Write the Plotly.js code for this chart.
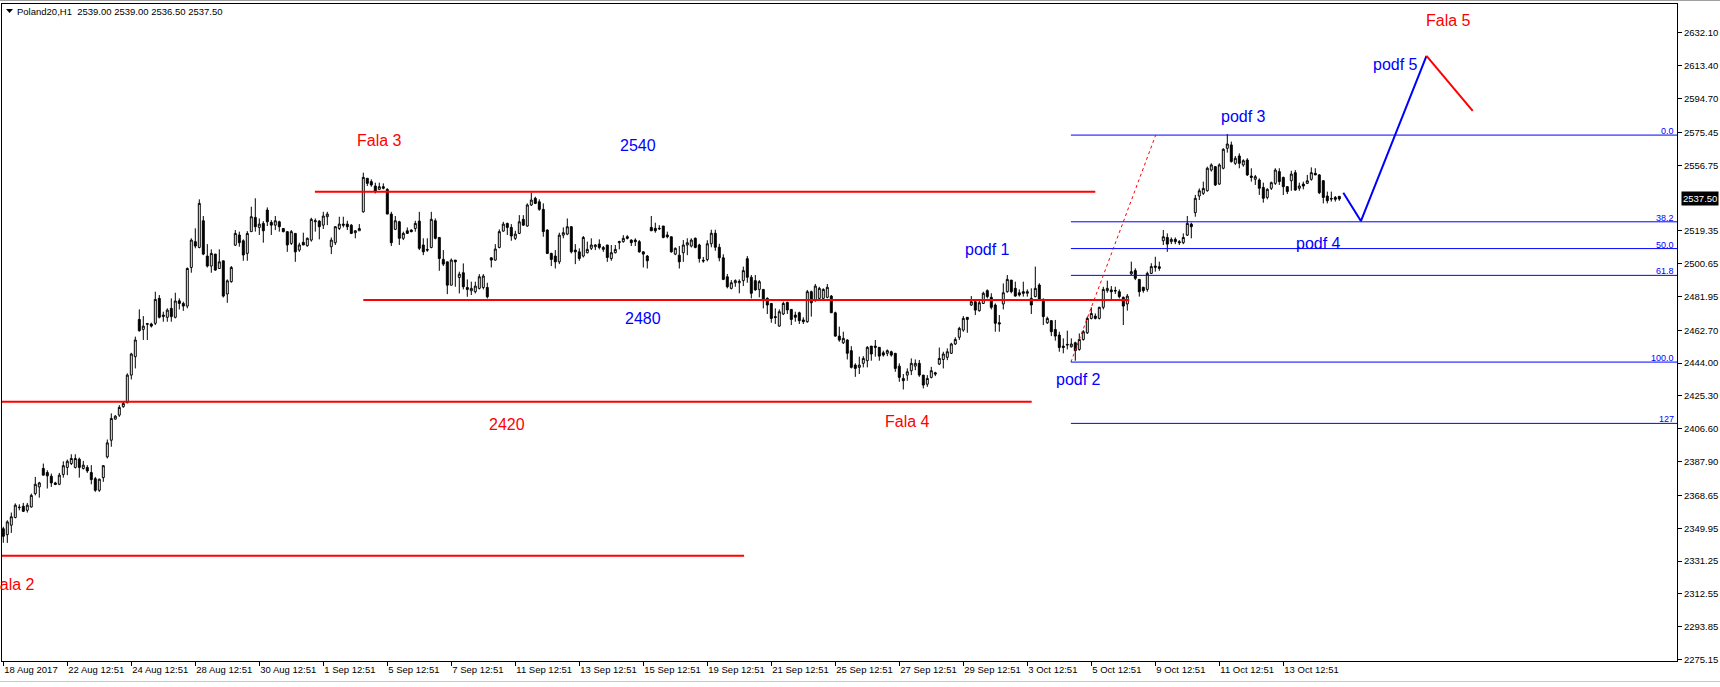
<!DOCTYPE html>
<html><head><meta charset="utf-8">
<script src="https://cdn.plot.ly/plotly-3.0.1.min.js"></script>
<style>html,body{margin:0;padding:0;background:#fff;overflow:hidden}#chart{width:1720px;height:687px;}</style>
</head><body><div id="chart"></div>
<script>
// ---- DATA (H1 candles) ----
const open = [
2349.7,2346.3,2351.7,2356.1,2361.7,2362.5,2360.2,2362.1,2369.7,2373.5,
2384.0,2381.7,2379.6,2375.8,2375.0,2380.6,2384.6,2386.8,2384.6,2389.3,
2384.0,2384.6,2381.7,2378.2,2371.6,2378.8,2390.6,2400.1,2412.1,2414.4,
2419.2,2421.5,2437.2,2447.7,2468.9,2463.2,2466.1,2466.3,2466.7,2480.9,
2470.5,2470.1,2475.2,2470.1,2479.5,2478.0,2476.5,2498.5,2513.2,2509.9,
2525.1,2505.0,2499.3,2506.1,2497.9,2502.3,2483.4,2490.4,2511.2,2517.0,
2513.7,2506.5,2518.9,2527.0,2521.3,2523.6,2531.2,2524.2,2522.6,2524.5,
2520.7,2518.9,2512.2,2517.9,2508.4,2512.8,2510.9,2514.1,2524.5,2524.9,
2522.6,2527.4,2510.3,2512.6,2520.7,2523.2,2523.2,2522.6,2518.3,2519.4,
2530.2,2549.3,2547.4,2544.9,2543.0,2544.5,2543.0,2528.9,2520.2,2524.5,
2515.1,2519.4,2519.8,2520.7,2524.9,2511.3,2508.8,2509.9,2525.1,2515.6,
2503.1,2501.7,2488.4,2502.7,2492.8,2495.5,2487.1,2485.2,2484.7,2486.6,
2487.1,2487.1,2504.0,2502.7,2509.9,2519.2,2523.6,2521.3,2515.1,2517.9,
2525.9,2522.1,2534.1,2537.9,2535.9,2531.6,2519.8,2506.5,2505.0,2501.7,
2516.9,2517.5,2521.7,2508.4,2507.4,2505.0,2506.9,2509.4,2510.3,2511.8,
2508.8,2511.3,2503.6,2506.9,2512.6,2513.2,2516.0,2514.1,2514.1,2513.2,
2507.4,2505.0,2521.3,2520.8,2520.8,2522.1,2517.0,2516.0,2506.1,2505.5,
2506.9,2511.3,2510.7,2515.1,2511.3,2502.6,2503.0,2512.0,2518.0,2510.0,
2504.0,2493.2,2486.6,2489.8,2489.8,2491.0,2503.5,2492.9,2491.0,2486.0,
2486.0,2480.9,2478.0,2470.5,2465.1,2472.0,2478.6,2474.6,2471.4,2472.7,
2468.6,2467.6,2484.7,2479.6,2480.9,2480.9,2481.5,2482.2,2472.7,2459.4,
2455.6,2457.2,2451.1,2442.9,2441.6,2443.9,2445.4,2453.7,2453.7,2453.0,
2449.9,2449.6,2450.5,2449.6,2442.3,2435.3,2437.2,2439.7,2442.3,2443.9,
2437.2,2432.0,2435.9,2438.5,2443.5,2446.1,2447.3,2449.6,2454.9,2458.7,
2462.8,2470.1,2477.1,2479.0,2473.9,2478.0,2485.3,2481.5,2477.1,2467.0,
2477.7,2484.7,2491.3,2486.6,2484.1,2484.7,2483.8,2480.9,2481.9,2488.5,
2480.3,2467.0,2468.2,2463.2,2460.0,2453.7,2454.7,2453.3,2455.6,2451.8,
2457.5,2461.3,2469.5,2470.8,2469.5,2475.8,2485.3,2485.7,2485.4,2484.7,
2481.5,2477.7,2494.8,2496.7,2491.7,2487.2,2486.0,2495.1,2499.3,2498.9,
2513.7,2515.6,2513.2,2514.5,2513.2,2512.6,2516.9,2523.2,2529.7,2539.2,
2540.7,2542.2,2554.0,2555.9,2546.0,2555.0,2566.4,2568.3,2557.8,2562.0,
2556.9,2559.7,2550.6,2548.7,2548.3,2544.1,2538.4,2543.6,2546.4,2553.1,
2549.8,2544.5,2547.9,2552.5,2543.6,2546.0,2546.4,2548.7,2552.1,2551.2,
2547.9,2539.2,2537.8,2538.4,2539.0
];
const high = [
2350.8,2354.5,2358.9,2364.1,2363.6,2364.4,2364.4,2369.7,2379.2,2376.4,
2386.8,2383.0,2381.1,2376.4,2381.5,2388.1,2389.1,2392.1,2392.1,2390.2,
2388.3,2385.9,2385.9,2379.2,2378.2,2385.9,2400.5,2415.4,2414.4,2420.1,
2422.0,2438.2,2449.9,2459.1,2474.6,2470.8,2466.6,2467.0,2484.7,2482.8,
2473.3,2475.2,2480.9,2484.1,2480.9,2479.0,2498.5,2515.1,2520.8,2537.3,
2527.8,2511.8,2508.8,2506.2,2508.8,2502.3,2491.7,2499.3,2519.8,2518.9,
2514.5,2519.2,2533.1,2537.9,2526.4,2524.9,2532.7,2525.5,2527.8,2525.1,
2520.9,2518.9,2519.8,2517.9,2512.6,2518.3,2515.6,2526.8,2526.4,2525.5,
2530.2,2530.2,2515.6,2522.1,2527.4,2527.4,2525.1,2523.2,2519.8,2523.2,
2552.5,2549.3,2548.7,2546.8,2546.8,2546.4,2543.6,2530.2,2527.8,2525.1,
2518.9,2521.3,2520.2,2525.1,2530.2,2515.1,2515.1,2530.2,2526.4,2515.6,
2508.4,2501.7,2503.6,2502.7,2496.1,2500.8,2491.7,2490.4,2490.4,2494.7,
2494.7,2489.8,2504.2,2511.8,2520.2,2524.5,2524.0,2523.2,2519.4,2528.3,
2528.3,2535.0,2541.1,2538.8,2537.3,2535.0,2520.2,2506.9,2508.4,2518.3,
2521.3,2526.4,2522.1,2511.8,2509.4,2516.4,2513.2,2515.1,2511.8,2514.5,
2510.7,2511.3,2511.3,2511.3,2513.7,2516.9,2516.9,2514.5,2515.1,2514.1,
2507.6,2505.6,2527.8,2524.0,2522.6,2522.1,2518.9,2516.0,2509.9,2510.7,
2514.1,2515.1,2515.1,2515.6,2512.0,2504.5,2514.0,2520.0,2520.0,2512.0,
2506.0,2494.8,2491.3,2491.7,2491.7,2499.0,2505.0,2494.2,2494.2,2491.3,
2486.0,2481.5,2478.0,2475.2,2474.6,2479.0,2479.0,2474.6,2473.3,2473.3,
2470.1,2485.7,2485.3,2489.1,2487.5,2486.6,2489.1,2482.8,2473.3,2464.8,
2461.9,2457.6,2453.7,2443.9,2447.7,2448.0,2453.7,2453.7,2457.2,2453.0,
2451.1,2451.8,2451.1,2449.6,2443.9,2437.8,2441.0,2446.7,2446.1,2445.8,
2437.2,2437.2,2441.9,2439.1,2452.9,2450.5,2452.4,2455.6,2458.7,2464.7,
2470.8,2470.1,2482.2,2480.3,2480.3,2484.7,2486.0,2483.8,2478.0,2471.4,
2489.4,2494.2,2491.3,2490.4,2486.0,2490.4,2486.0,2486.6,2499.0,2489.5,
2480.9,2470.5,2468.6,2468.6,2461.9,2458.1,2462.5,2458.1,2456.2,2460.9,
2462.8,2470.5,2475.8,2472.3,2476.1,2487.5,2491.0,2487.9,2487.5,2486.0,
2481.9,2483.4,2501.8,2498.0,2491.7,2487.5,2496.1,2500.9,2504.6,2501.8,
2519.8,2517.9,2515.6,2515.6,2514.1,2517.9,2527.8,2524.0,2539.8,2543.5,
2547.4,2555.9,2557.8,2556.3,2557.8,2566.4,2574.5,2570.2,2562.0,2563.5,
2560.1,2560.7,2555.0,2551.2,2549.3,2546.8,2543.6,2547.4,2555.0,2555.0,
2550.2,2544.9,2553.6,2554.0,2546.8,2547.4,2551.2,2555.5,2555.0,2551.7,
2548.3,2541.7,2541.7,2539.2,2539.0
];
const low = [
2341.7,2341.6,2347.3,2355.6,2360.2,2359.2,2358.9,2361.7,2368.7,2367.4,
2380.2,2372.6,2373.5,2374.5,2374.5,2378.8,2380.2,2385.9,2384.0,2378.8,
2383.4,2381.5,2375.0,2370.7,2370.7,2376.4,2389.7,2396.4,2411.9,2413.4,
2418.6,2421.1,2434.7,2441.0,2461.9,2457.2,2457.2,2464.3,2465.7,2469.5,
2467.6,2467.6,2467.6,2469.5,2474.6,2473.8,2475.2,2495.5,2509.4,2509.4,
2505.5,2498.5,2495.5,2496.6,2497.9,2481.4,2478.4,2489.8,2510.7,2510.3,
2502.3,2502.3,2518.9,2518.9,2517.0,2512.6,2522.1,2517.0,2519.8,2518.9,
2518.5,2507.4,2511.3,2501.7,2507.4,2511.3,2510.3,2513.2,2518.9,2514.5,
2520.4,2522.6,2506.1,2511.3,2519.8,2521.3,2519.8,2517.5,2515.1,2519.4,
2529.7,2544.9,2544.5,2540.7,2542.6,2543.0,2528.9,2510.7,2519.8,2511.3,
2514.1,2517.9,2518.5,2518.9,2508.4,2505.5,2507.4,2509.4,2514.5,2496.6,
2499.3,2483.3,2488.4,2487.5,2483.7,2486.0,2481.8,2482.8,2483.7,2486.0,
2486.0,2480.9,2498.5,2502.3,2509.4,2518.9,2517.0,2513.7,2514.1,2517.5,
2522.1,2521.7,2533.5,2534.6,2530.8,2516.0,2506.1,2499.3,2497.9,2500.4,
2515.1,2516.9,2506.5,2500.4,2502.3,2504.2,2506.5,2508.4,2508.4,2508.8,
2507.4,2501.7,2502.3,2506.5,2508.8,2512.6,2514.5,2510.7,2510.7,2506.9,
2498.5,2497.9,2519.4,2518.3,2519.8,2515.1,2515.1,2506.9,2505.5,2497.9,
2501.7,2505.5,2509.9,2509.4,2501.3,2501.2,2502.0,2510.0,2508.0,2502.0,
2491.3,2486.6,2486.0,2487.5,2483.8,2487.9,2489.8,2480.9,2485.3,2481.5,
2475.2,2472.0,2467.0,2466.3,2464.8,2471.4,2472.0,2465.7,2467.6,2466.3,
2466.3,2467.0,2470.5,2479.0,2480.3,2480.3,2480.9,2472.7,2459.1,2456.2,
2454.9,2446.1,2441.0,2436.2,2437.8,2441.6,2441.6,2445.4,2447.7,2445.4,
2447.7,2448.0,2447.7,2439.1,2433.4,2429.0,2434.0,2437.2,2440.0,2436.2,
2429.6,2430.5,2435.3,2436.6,2442.9,2441.0,2445.7,2449.2,2454.3,2457.2,
2461.9,2461.3,2476.5,2471.4,2473.3,2477.7,2480.9,2474.6,2461.9,2461.9,
2474.6,2484.1,2483.8,2481.9,2481.9,2481.9,2481.9,2472.0,2481.5,2479.6,
2465.7,2466.3,2459.4,2456.8,2450.5,2449.6,2451.8,2452.9,2445.4,2451.1,
2456.8,2460.6,2468.9,2468.9,2468.9,2474.6,2484.1,2480.3,2483.4,2480.9,
2465.7,2473.9,2494.2,2491.3,2481.9,2484.1,2484.7,2494.8,2496.1,2496.6,
2511.3,2507.4,2511.8,2511.8,2511.3,2511.8,2516.4,2515.1,2527.4,2536.9,
2539.8,2541.7,2553.1,2544.9,2545.5,2554.4,2563.9,2558.2,2556.9,2555.0,
2555.9,2550.6,2547.4,2545.5,2539.8,2535.4,2537.3,2542.6,2545.5,2545.5,
2539.8,2540.3,2542.2,2542.2,2542.2,2543.0,2546.0,2547.9,2551.2,2540.3,
2535.0,2535.0,2536.0,2536.0,2536.5
];
const close = [
2345.4,2353.6,2356.5,2363.1,2361.9,2359.6,2363.1,2368.7,2375.0,2375.8,
2380.2,2379.8,2375.8,2374.9,2380.2,2385.6,2388.1,2389.7,2389.7,2384.6,
2385.9,2382.6,2377.7,2371.6,2377.9,2385.6,2398.6,2412.5,2413.8,2418.8,
2421.1,2437.2,2449.2,2457.2,2462.5,2465.1,2466.5,2465.1,2480.3,2470.1,
2471.4,2474.2,2470.5,2479.4,2478.0,2476.5,2497.9,2514.1,2510.7,2535.0,
2506.1,2499.3,2506.5,2497.0,2501.7,2482.2,2490.9,2498.5,2517.9,2512.6,
2505.6,2517.9,2527.4,2521.7,2523.2,2519.4,2524.5,2522.6,2525.1,2521.7,
2518.9,2511.3,2518.9,2507.4,2511.3,2511.3,2515.1,2525.9,2525.1,2521.7,
2527.8,2528.9,2514.1,2521.7,2523.2,2522.6,2521.7,2517.9,2519.4,2520.7,
2549.8,2546.4,2545.5,2541.7,2544.5,2543.6,2528.9,2512.6,2525.1,2515.1,
2517.9,2517.9,2518.9,2523.6,2509.4,2507.4,2508.4,2525.9,2515.1,2503.6,
2500.4,2488.4,2502.7,2501.7,2494.7,2487.5,2486.0,2486.6,2487.9,2493.2,
2493.6,2481.8,2502.7,2509.0,2518.9,2523.2,2521.3,2516.4,2517.5,2524.5,
2522.6,2534.1,2536.9,2535.0,2531.6,2518.9,2506.5,2503.1,2501.7,2516.9,
2518.3,2521.7,2507.4,2507.4,2503.6,2515.6,2508.8,2511.3,2511.3,2509.9,
2509.9,2504.2,2506.9,2508.8,2513.2,2515.1,2515.1,2512.6,2513.2,2507.4,
2506.1,2502.3,2519.4,2519.4,2520.6,2515.6,2516.0,2507.4,2509.4,2501.7,
2511.3,2512.6,2514.1,2509.9,2503.6,2502.2,2512.0,2518.0,2510.0,2504.0,
2491.7,2487.5,2489.8,2491.0,2490.6,2496.7,2492.9,2483.8,2485.7,2490.4,
2479.6,2477.1,2469.5,2470.0,2473.3,2478.0,2474.3,2468.9,2470.1,2468.2,
2467.6,2484.7,2478.4,2487.9,2486.6,2486.0,2487.2,2472.7,2459.4,2457.2,
2458.1,2449.6,2441.6,2441.0,2442.9,2446.7,2453.0,2449.2,2453.0,2448.0,
2448.6,2451.1,2448.6,2441.0,2435.9,2434.0,2439.1,2443.9,2443.9,2437.2,
2431.5,2435.3,2439.7,2437.8,2446.7,2449.2,2450.5,2454.9,2457.5,2463.8,
2469.5,2468.9,2479.0,2474.2,2478.4,2483.8,2481.9,2475.8,2466.7,2466.3,
2484.1,2491.7,2484.7,2482.2,2482.8,2483.8,2484.7,2477.1,2486.6,2480.0,
2470.5,2469.5,2461.9,2459.4,2452.9,2452.9,2454.4,2454.9,2451.1,2457.5,
2461.9,2469.5,2472.3,2469.5,2475.8,2486.0,2486.6,2484.7,2485.1,2481.9,
2476.5,2482.2,2496.1,2492.3,2484.7,2485.3,2495.1,2499.0,2498.6,2498.0,
2516.0,2511.8,2514.5,2513.2,2512.6,2515.6,2523.6,2521.7,2537.9,2542.2,
2543.5,2555.0,2556.9,2545.5,2556.9,2565.8,2568.8,2558.8,2560.7,2557.8,
2559.3,2551.2,2549.8,2550.2,2543.6,2537.9,2543.0,2546.8,2554.0,2547.4,
2544.5,2541.7,2551.7,2542.6,2544.9,2544.9,2547.9,2552.5,2551.2,2541.1,
2538.4,2536.5,2537.5,2537.3,2537.5
];
const bars = open.map((_, i) => i);

const tickBars = [0,16,32,48,64,80,96,112,128,144,160,176,192,208,224,240,256,272,288,304,320];
const tickLabels = ["18 Aug 2017","22 Aug 12:51","24 Aug 12:51","28 Aug 12:51","30 Aug 12:51","1 Sep 12:51",
  "5 Sep 12:51","7 Sep 12:51","11 Sep 12:51","13 Sep 12:51","15 Sep 12:51","19 Sep 12:51","21 Sep 12:51",
  "25 Sep 12:51","27 Sep 12:51","29 Sep 12:51","3 Oct 12:51","5 Oct 12:51","9 Oct 12:51","11 Oct 12:51","13 Oct 12:51"];
const priceTicks = [2632.10,2613.40,2594.70,2575.45,2556.75,2519.35,2500.65,2481.95,2462.70,2444.00,
  2425.30,2406.60,2387.90,2368.65,2349.95,2331.25,2312.55,2293.85,2275.15];
const priceTickLabels = priceTicks.map(v => v.toFixed(2));
const lastPrice = 2537.50;
const headerText = "Poland20,H1  2539.00 2539.00 2536.50 2537.50";

// horizontal support / resistance lines (red)
const redLevels = [2541.6, 2479.95, 2422.0, 2334.3];
const redStart  = [77.9, 90.0, -2, -2];
const redEnd    = [273.0, 281.5, 257.1, 185.2];

// fibonacci retracement
const fibHigh = 2573.9, fibLow = 2444.6, fibStartBar = 266.9, fibTrendEndBar = 288.1;
const fibRatios = [0, 38.2, 50, 61.8, 100, 127];
const fibLabels = ["0.0","38.2","50.0","61.8","100.0","127"];

// projected waves
const blueWaveBars = [335.0, 339.4, 355.8];
const blueWavePrices = [2541.1, 2524.95, 2619.0];
const redWaveBars = [355.8, 367.35];
const redWavePrices = [2619.0, 2587.7];

// text labels
const labelTexts  = ["Fala 3","2540","2480","2420","Fala 4","Fala 2","podf 1","podf 2","podf 3","podf 4","podf 5","Fala 5"];
const labelBars   = [94.0, 158.7, 159.9, 125.9, 226.05, 2.3, 246.0, 268.9, 310.0, 328.9, 348.15, 361.2];
const labelPrices = [2570.7, 2567.7, 2469.5, 2409.0, 2410.85, 2317.7, 2509.0, 2434.8, 2584.6, 2512.3, 2614.0, 2639.0];
const labelColors = ["#ff0000","#0000ff","#0000ff","#ff0000","#ff0000","#ff0000","#0000ff","#0000ff","#0000ff","#0000ff","#0000ff","#ff0000"];

// ---- CHART ----
const FONT = "Liberation Sans, Arial, sans-serif";
const W = 1720, H = 687, ML = 2, MR = 43, MT = 4, MB = 26;
const PW = W - ML - MR, PH = H - MT - MB;
const px2paperX = px => (px - ML) / PW;
const px2paperY = py => (H - MB - py) / PH;

const traces = [];
traces.push({
  type: 'candlestick', x: bars, open: open, high: high, low: low, close: close,
  increasing: {line: {color: '#000000', width: 1}, fillcolor: '#ffffff'},
  decreasing: {line: {color: '#000000', width: 1}, fillcolor: '#000000'},
  whiskerwidth: 0, hoverinfo: 'skip', showlegend: false
});
redLevels.forEach((lv, k) => {
  traces.push({type: 'scatter', mode: 'lines', x: [redStart[k], redEnd[k]], y: [lv, lv],
    line: {color: '#ff0000', width: 2}, hoverinfo: 'skip', showlegend: false});
});
const fibPrice = r => fibHigh - r / 100 * (fibHigh - fibLow);
fibRatios.forEach(r => {
  const p = fibPrice(r);
  traces.push({type: 'scatter', mode: 'lines', x: [fibStartBar, 430], y: [p, p],
    line: {color: '#0000ff', width: 1}, hoverinfo: 'skip', showlegend: false});
});
traces.push({type: 'scatter', mode: 'lines', x: [fibStartBar, fibTrendEndBar], y: [fibLow, fibHigh],
  line: {color: '#ff0000', width: 1, dash: 'dot'}, hoverinfo: 'skip', showlegend: false});
traces.push({type: 'scatter', mode: 'lines', x: blueWaveBars, y: blueWavePrices,
  line: {color: '#0000ff', width: 2}, hoverinfo: 'skip', showlegend: false});
traces.push({type: 'scatter', mode: 'lines', x: redWaveBars, y: redWavePrices,
  line: {color: '#ff0000', width: 2}, hoverinfo: 'skip', showlegend: false});

const annotations = [];
labelTexts.forEach((t, k) => {
  annotations.push({text: t, x: labelBars[k], y: labelPrices[k], xref: 'x', yref: 'y',
    showarrow: false, xanchor: 'center', yanchor: 'middle',
    font: {family: FONT, size: 16, color: labelColors[k]}});
});
fibRatios.forEach((r, k) => {
  annotations.push({text: fibLabels[k], x: 1, xref: 'paper', y: fibPrice(r), yref: 'y',
    xanchor: 'right', yanchor: 'bottom', xshift: -1, yshift: -3, showarrow: false,
    font: {family: FONT, size: 9, color: '#0000ff'}});
});
annotations.push({text: lastPrice.toFixed(2), x: 1, xref: 'paper', y: lastPrice, yref: 'y',
  xanchor: 'left', yanchor: 'middle', xshift: 4, showarrow: false, bgcolor: '#000000', borderpad: 1,
  font: {family: FONT, size: 9.5, color: '#ffffff'}});
annotations.push({text: headerText, x: px2paperX(15), xref: 'paper', y: px2paperY(4), yref: 'paper',
  xanchor: 'left', yanchor: 'top', showarrow: false,
  font: {family: FONT, size: 9.5, color: '#000000'}});

const shapes = [
  {type: 'path', xref: 'paper', yref: 'paper',
   path: `M ${px2paperX(6)} ${px2paperY(9)} L ${px2paperX(13)} ${px2paperY(9)} L ${px2paperX(9.5)} ${px2paperY(13)} Z`,
   fillcolor: '#000000', line: {width: 0}},
  {type: 'line', xref: 'paper', yref: 'paper', x0: px2paperX(0), x1: px2paperX(W), y0: px2paperY(0.5), y1: px2paperY(0.5),
   line: {color: '#a0a0a0', width: 1}},
  {type: 'line', xref: 'paper', yref: 'paper', x0: px2paperX(0), x1: px2paperX(W), y0: px2paperY(681.5), y1: px2paperY(681.5),
   line: {color: '#c8c8c8', width: 1}}
];

const layout = {
  width: W, height: H,
  margin: {l: ML, r: MR, t: MT, b: MB, pad: 0},
  paper_bgcolor: '#ffffff', plot_bgcolor: '#ffffff',
  showlegend: false, hovermode: false, dragmode: false,
  xaxis: {range: [(ML - 3.3) / 4, (W - MR - 3.3) / 4], tickmode: 'array', tickvals: tickBars, ticktext: tickLabels,
    tickangle: 0, automargin: false,
    ticks: 'outside', ticklen: 4, tickwidth: 1, tickcolor: '#000000', ticklabelposition: 'outside right',
    tickfont: {family: FONT, size: 9.5, color: '#000000'}, showgrid: false, zeroline: false,
    showline: true, linecolor: '#000000', linewidth: 1, mirror: true, rangeslider: {visible: false}, fixedrange: true},
  yaxis: {side: 'right', range: [2274.35, 2648.56], tickmode: 'array', tickvals: priceTicks, ticktext: priceTickLabels,
    automargin: false,
    ticks: 'outside', ticklen: 4, tickwidth: 1, tickcolor: '#000000',
    tickfont: {family: FONT, size: 9.5, color: '#000000'}, showgrid: false, zeroline: false,
    showline: true, linecolor: '#000000', linewidth: 1, mirror: true, fixedrange: true},
  annotations: annotations, shapes: shapes
};
Plotly.newPlot('chart', traces, layout, {staticPlot: true, displayModeBar: false});
</script></body></html>
